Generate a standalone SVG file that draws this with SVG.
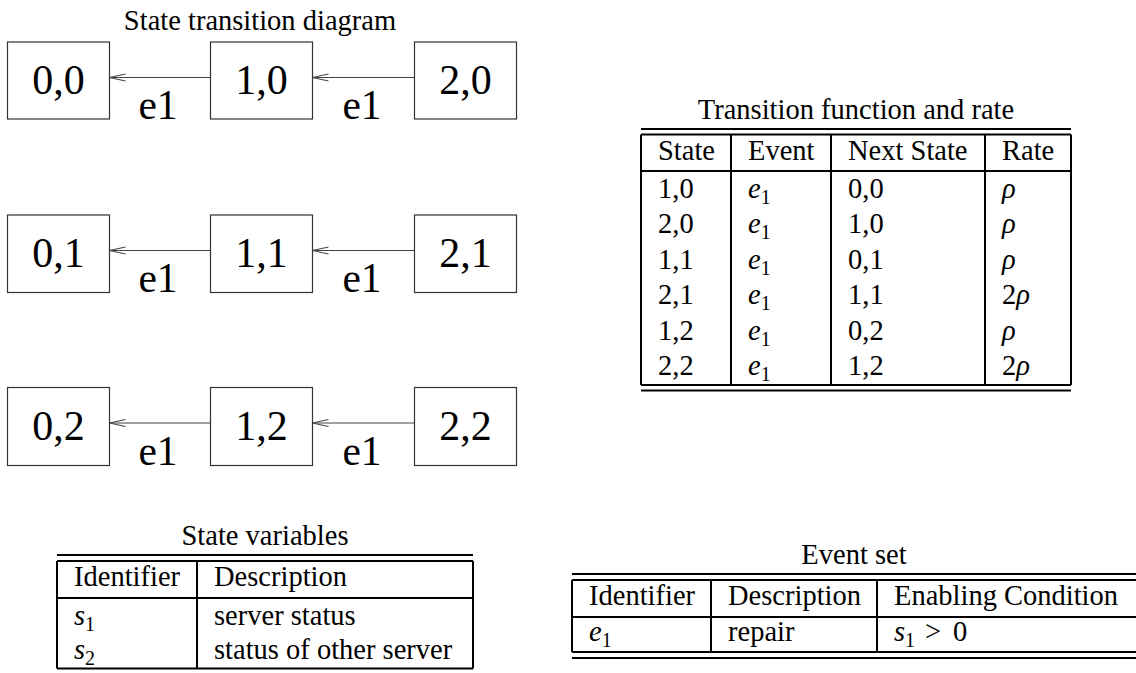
<svg xmlns="http://www.w3.org/2000/svg" width="1136" height="673" viewBox="0 0 1136 673" font-family="'Liberation Serif', 'Times New Roman', Times, 'DejaVu Serif', serif">
<style>
text{font-family:'Liberation Serif','Times New Roman',Times,'DejaVu Serif',serif}
.t{font-size:28.5px;fill:#000}
.big{font-size:42px}
.lab{font-size:41.5px}
.c{text-anchor:middle}
.i{font-style:italic}
.sub{font-size:20px}
.rule{stroke:#000;stroke-width:2;fill:none}
.box{fill:#fff;stroke:#333;stroke-width:1.2}
.edge{stroke:#444;stroke-width:1.2;fill:none}
</style>
<defs>
<marker id="open" markerUnits="userSpaceOnUse" markerWidth="20" markerHeight="12" viewBox="-18 -6 20 12" refX="0" refY="0" orient="auto">
<path d="M-16,-3.5 L0,0 L-16,3.5" fill="none" stroke="#444" stroke-width="1.1"/>
</marker>
</defs>
<rect width="1136" height="673" fill="#fff"/>
<text class="t c" x="260" y="30">State transition diagram</text>

<g id="connectors">
<line class="edge" x1="210.5" y1="77.5" x2="109.5" y2="77.5" marker-end="url(#open)"/>
<line class="edge" x1="414.5" y1="77.5" x2="312.5" y2="77.5" marker-end="url(#open)"/>
<line class="edge" x1="210.5" y1="250.5" x2="109.5" y2="250.5" marker-end="url(#open)"/>
<line class="edge" x1="414.5" y1="250.5" x2="312.5" y2="250.5" marker-end="url(#open)"/>
<line class="edge" x1="210.5" y1="423" x2="109.5" y2="423" marker-end="url(#open)"/>
<line class="edge" x1="414.5" y1="423" x2="312.5" y2="423" marker-end="url(#open)"/>
<text class="t lab c" x="158" y="119">e1</text>
<text class="t lab c" x="362" y="119">e1</text>
<text class="t lab c" x="158" y="292">e1</text>
<text class="t lab c" x="362" y="292">e1</text>
<text class="t lab c" x="158" y="465">e1</text>
<text class="t lab c" x="362" y="465">e1</text>
</g>

<g id="n00"><rect class="box" x="7.5" y="42" width="102" height="77"/><text class="t big c" x="58.5" y="93.5">0,0</text></g>
<g id="n10"><rect class="box" x="210.5" y="42" width="102" height="77"/><text class="t big c" x="261.5" y="93.5">1,0</text></g>
<g id="n20"><rect class="box" x="414.5" y="42" width="102" height="77"/><text class="t big c" x="465.5" y="93.5">2,0</text></g>
<g id="n01"><rect class="box" x="7.5" y="215" width="102" height="77.5"/><text class="t big c" x="58.5" y="266.5">0,1</text></g>
<g id="n11"><rect class="box" x="210.5" y="215" width="102" height="77.5"/><text class="t big c" x="261.5" y="266.5">1,1</text></g>
<g id="n21"><rect class="box" x="414.5" y="215" width="102" height="77.5"/><text class="t big c" x="465.5" y="266.5">2,1</text></g>
<g id="n02"><rect class="box" x="7.5" y="387.5" width="102" height="78"/><text class="t big c" x="58.5" y="439.5">0,2</text></g>
<g id="n12"><rect class="box" x="210.5" y="387.5" width="102" height="78"/><text class="t big c" x="261.5" y="439.5">1,2</text></g>
<g id="n22"><rect class="box" x="414.5" y="387.5" width="102" height="78"/><text class="t big c" x="465.5" y="439.5">2,2</text></g>

<g id="transition-table">
<text class="t c" x="856" y="119">Transition function and rate</text>
<path class="rule" d="M641,129H1071M641,134.5H1071M641,171H1071M641,385H1071M641,390.5H1071M641,134.5V385M731,134.5V385M831,134.5V385M985,134.5V385M1071,134.5V385"/>
<text class="t" x="658" y="159.5">State</text>
<text class="t" x="748" y="159.5">Event</text>
<text class="t" x="848" y="159.5">Next State</text>
<text class="t" x="1002" y="159.5">Rate</text>
<text class="t" x="658" y="197.5">1,0</text><text class="t" x="748" y="197.5"><tspan class="i">e</tspan><tspan class="sub" dy="6">1</tspan></text><text class="t" x="848" y="197.5">0,0</text><text class="t i" x="1002" y="197.5">ρ</text>
<text class="t" x="658" y="233">2,0</text><text class="t" x="748" y="233"><tspan class="i">e</tspan><tspan class="sub" dy="6">1</tspan></text><text class="t" x="848" y="233">1,0</text><text class="t i" x="1002" y="233">ρ</text>
<text class="t" x="658" y="268.5">1,1</text><text class="t" x="748" y="268.5"><tspan class="i">e</tspan><tspan class="sub" dy="6">1</tspan></text><text class="t" x="848" y="268.5">0,1</text><text class="t i" x="1002" y="268.5">ρ</text>
<text class="t" x="658" y="304">2,1</text><text class="t" x="748" y="304"><tspan class="i">e</tspan><tspan class="sub" dy="6">1</tspan></text><text class="t" x="848" y="304">1,1</text><text class="t" x="1002" y="304">2<tspan class="i">ρ</tspan></text>
<text class="t" x="658" y="339.5">1,2</text><text class="t" x="748" y="339.5"><tspan class="i">e</tspan><tspan class="sub" dy="6">1</tspan></text><text class="t" x="848" y="339.5">0,2</text><text class="t i" x="1002" y="339.5">ρ</text>
<text class="t" x="658" y="375">2,2</text><text class="t" x="748" y="375"><tspan class="i">e</tspan><tspan class="sub" dy="6">1</tspan></text><text class="t" x="848" y="375">1,2</text><text class="t" x="1002" y="375">2<tspan class="i">ρ</tspan></text>
</g>

<g id="state-variables">
<text class="t c" x="265" y="545">State variables</text>
<path class="rule" d="M57,555H473M57,561H473M57,598H473M57,668.5H473M57,561V668.5M197,561V668.5M473,561V668.5"/>
<text class="t" x="74" y="586">Identifier</text>
<text class="t" x="214" y="586">Description</text>
<text class="t" x="74" y="624.5"><tspan class="i">s</tspan><tspan class="sub" dy="6">1</tspan></text>
<text class="t" x="214" y="624.5">server status</text>
<text class="t" x="74" y="658.5"><tspan class="i">s</tspan><tspan class="sub" dy="6">2</tspan></text>
<text class="t" x="214" y="658.5">status of other server</text>
</g>

<g id="event-set">
<text class="t c" x="854" y="564">Event set</text>
<path class="rule" d="M572,574H1136M572,580H1136M572,617H1136M572,652H1136M572,658H1136M572,580V652M711,580V652M877,580V652"/>
<text class="t" x="589" y="605">Identifier</text>
<text class="t" x="728" y="605">Description</text>
<text class="t" x="894" y="605">Enabling Condition</text>
<text class="t" x="589" y="641"><tspan class="i">e</tspan><tspan class="sub" dy="6">1</tspan></text>
<text class="t" x="728" y="641">repair</text>
<text class="t" x="894" y="641"><tspan class="i">s</tspan><tspan class="sub" dy="6">1</tspan><tspan dy="-6" x="925">&gt;</tspan><tspan x="953">0</tspan></text>
</g>
</svg>
